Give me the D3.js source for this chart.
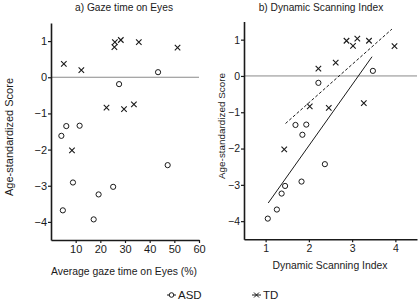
<!DOCTYPE html>
<html>
<head>
<meta charset="utf-8">
<script src="https://cdn.jsdelivr.net/npm/d3@7"></script>
<style>
  body { margin: 0; background: #fff; }
  svg { display: block; font-family: "Liberation Sans", Arial, sans-serif; }
</style>
</head>
<body>
<div id="chart"></div>
<script>
// ASD group: age-standardized score, gaze time on eyes (%), dynamic scanning index
const asdScore = [0.14, -0.19, -1.35, -1.34, -1.62, -2.43, -2.91, -3.03, -3.24, -3.68, -3.93];
const asdEyes  = [43.4, 27.6, 6.2, 11.6, 4.2, 47.3, 8.9, 25.2, 19.3, 4.8, 17.3];
const asdDSI   = [3.48, 2.22, 1.69, 1.94, 1.85, 2.37, 1.83, 1.45, 1.37, 1.26, 1.05];

// TD group
const tdScore = [0.37, 0.20, 0.97, 0.83, 1.03, 0.97, 0.82, -0.84, -0.88, -0.75, -2.02];
const tdEyes  = [5.2, 12.3, 25.9, 25.7, 28.3, 35.6, 51.3, 22.5, 29.6, 33.6, 8.5];
const tdDSI   = [2.62, 2.22, 2.87, 3.02, 3.12, 3.39, 3.98, 2.02, 2.46, 3.27, 1.43];

// regression lines in panel b (endpoints)
const asdFitX = [1.06, 3.46], asdFitY = [-3.50, 0.53];
const tdFitX  = [1.46, 3.92], tdFitY  = [-1.31, 1.29];

const yTicks = [1, 0, -1, -2, -3, -4];
const xTicksA = [10, 20, 30, 40, 50, 60];
const xTicksB = [1, 2, 3, 4];

const svg = d3.select('#chart').append('svg')
  .attr('width', 420).attr('height', 306);

const ink = '#1a1a1a';

function crossPath(size) {
  const s = size / 2;
  return `M${-s},${-s}L${s},${s}M${-s},${s}L${s},${-s}`;
}

function panel(opts) {
  const x = d3.scaleLinear().domain(opts.xDomain).range(opts.xRange);
  const y = d3.scaleLinear().domain([-4.5, 1.5]).range(opts.yRange);
  const g = svg.append('g');

  // zero reference line
  g.append('line')
    .attr('x1', x.range()[0]).attr('x2', x.range()[1])
    .attr('y1', y(0)).attr('y2', y(0))
    .attr('stroke', '#8a8a8a').attr('stroke-width', 1);

  const xAxis = g.append('g')
    .attr('transform', `translate(0,${y.range()[0]})`)
    .call(d3.axisBottom(x).tickValues(opts.xTicks).tickSize(3).tickSizeOuter(0).tickPadding(2)
      .tickFormat(d3.format('d')));
  const yAxis = g.append('g')
    .attr('transform', `translate(${x.range()[0]},0)`)
    .call(d3.axisLeft(y).tickValues(yTicks).tickSize(3).tickSizeOuter(0).tickPadding(1)
      .tickFormat(d3.format('d')));
  [xAxis, yAxis].forEach(a => {
    a.select('.domain').attr('stroke', ink).attr('stroke-width', 1.6);
    a.selectAll('.tick line').attr('stroke', ink).attr('stroke-width', 1.2);
    a.selectAll('text').attr('fill', ink).style('font-size', opts.tickFont)
      .style('font-family', '"Liberation Sans", Arial, sans-serif');
  });

  // fit lines
  (opts.fits || []).forEach(f => {
    g.append('line')
      .attr('x1', x(f.x[0])).attr('y1', y(f.y[0]))
      .attr('x2', x(f.x[1])).attr('y2', y(f.y[1]))
      .attr('stroke', ink).attr('stroke-width', 1)
      .attr('stroke-dasharray', f.dash || null);
  });

  g.selectAll('.asd')
    .data(d3.range(asdScore.length))
    .enter().append('circle')
    .attr('cx', i => x(opts.asdX[i]))
    .attr('cy', i => y(asdScore[i]))
    .attr('r', 2.6)
    .attr('fill', 'none').attr('stroke', ink).attr('stroke-width', 1);

  g.selectAll('.td')
    .data(d3.range(tdScore.length))
    .enter().append('path')
    .attr('transform', i => `translate(${x(opts.tdX[i])},${y(tdScore[i])})`)
    .attr('d', crossPath(5.5))
    .attr('stroke', ink).attr('stroke-width', 1.1);

  svg.append('text')
    .attr('x', opts.titleX).attr('y', 11)
    .attr('text-anchor', 'middle')
    .style('font-size', '10.2px').attr('fill', ink)
    .text(opts.title);

  svg.append('text')
    .attr('x', opts.xLabelX).attr('y', opts.xLabelY)
    .attr('text-anchor', 'middle')
    .style('font-size', '10.4px').attr('fill', ink)
    .text(opts.xLabel);

  svg.append('text')
    .attr('transform', `translate(${opts.yLabelX},${opts.yLabelY}) rotate(-90)`)
    .attr('text-anchor', 'middle')
    .style('font-size', opts.yLabelFont).attr('fill', ink)
    .text('Age-standardized Score');
}

panel({
  xDomain: [0, 60], xRange: [51, 199], yRange: [240, 23],
  xTicks: xTicksA, asdX: asdEyes, tdX: tdEyes, tickFont: '11px',
  title: 'a) Gaze time on Eyes', titleX: 124,
  xLabel: 'Average gaze time on Eyes (%)', xLabelX: 124, xLabelY: 275,
  yLabelX: 13, yLabelY: 137, yLabelFont: '11px'
});

panel({
  xDomain: [0.5, 4.5], xRange: [244, 417], yRange: [239.3, 21.5],
  xTicks: xTicksB, asdX: asdDSI, tdX: tdDSI, tickFont: '10.5px',
  fits: [{x: asdFitX, y: asdFitY}, {x: tdFitX, y: tdFitY, dash: '3,2'}],
  title: 'b) Dynamic Scanning Index', titleX: 321,
  xLabel: 'Dynamic Scanning Index', xLabelX: 330, xLabelY: 269,
  yLabelX: 225, yLabelY: 126, yLabelFont: '9.9px'
});

// legend
const legend = [
  {label: 'ASD', x: 167, type: 'circle'},
  {label: 'TD', x: 252, type: 'cross'}
];
const lg = svg.append('g');
legend.forEach(d => {
  lg.append('line')
    .attr('x1', d.x).attr('x2', d.x + 9).attr('y1', 295).attr('y2', 295)
    .attr('stroke', ink).attr('stroke-width', 1);
  if (d.type === 'circle') {
    lg.append('circle').attr('cx', d.x + 4.5).attr('cy', 295).attr('r', 2.3)
      .attr('fill', '#fff').attr('stroke', ink).attr('stroke-width', 1);
  } else {
    lg.append('path').attr('transform', `translate(${d.x + 4.5},295)`)
      .attr('d', crossPath(5)).attr('stroke', ink).attr('stroke-width', 1);
  }
  lg.append('text')
    .attr('x', d.x + 11).attr('y', 299)
    .style('font-size', '11.5px').attr('fill', ink)
    .text(d.label);
});
</script>
</body>
</html>
